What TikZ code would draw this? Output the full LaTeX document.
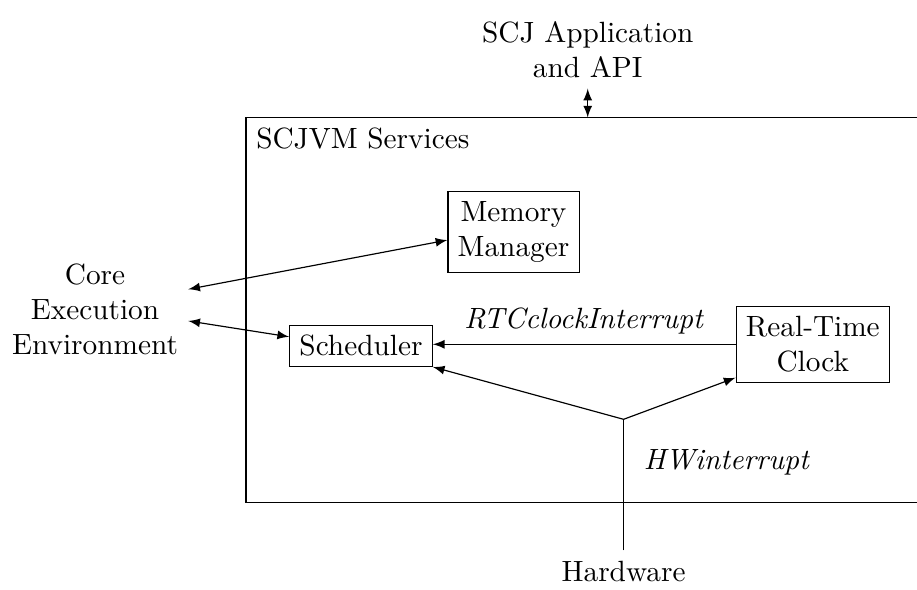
\documentclass[tikz,border=0pt]{standalone}
\usetikzlibrary{arrows}

\tikzset{comp/.style={draw, align=center}}

\begin{document}
\begin{tikzpicture}[>=latex]

  \useasboundingbox (0,0) rectangle (11.0,7.07);

  \draw[] (2.95,1.04) rectangle (11.5,5.66);
  \node[anchor=north west] (svc) at (2.95,5.66) {SCJVM Services};

  \node[align=center] (app) at (7.05,6.47) {SCJ Application\\and API};
  \coordinate (svctop) at (7.05,5.66);
  \draw[<->] (app) -- (svctop);

  \node[align=center] (core) at (1.14,3.36) {Core\\Execution\\Environment};

  \node[comp] (mem) at (6.16,4.29) {Memory\\Manager};
  \node[comp] (sched) at (4.33,2.92) {Scheduler};
  \node[comp] (rtc) at (9.75,2.94) {Real-Time\\Clock};

  \draw[<->] ([yshift=0.24cm]core.east) -- ([yshift=-0.1cm]mem.west);
  \draw[<->] ([yshift=-0.14cm]core.east) -- ([yshift=0.11cm]sched.west);

  \draw[->] (rtc.west) -- node[midway,above] {\textit{RTCclockInterrupt}} (rtc.west -| sched.east);

  \coordinate (hw) at (7.48,2.04);
  \node[] (hard) at (7.48,0.22) {Hardware};
  \draw[] (hard) -- (hw);
  \draw[->] (hw) -- (sched.south east);
  \draw[->] (hw) -- ([yshift=0.06cm]rtc.south west);

  \node[anchor=west] (hwlabel) at (7.6,1.52) {\textit{HWinterrupt}};

\end{tikzpicture}
\end{document}
